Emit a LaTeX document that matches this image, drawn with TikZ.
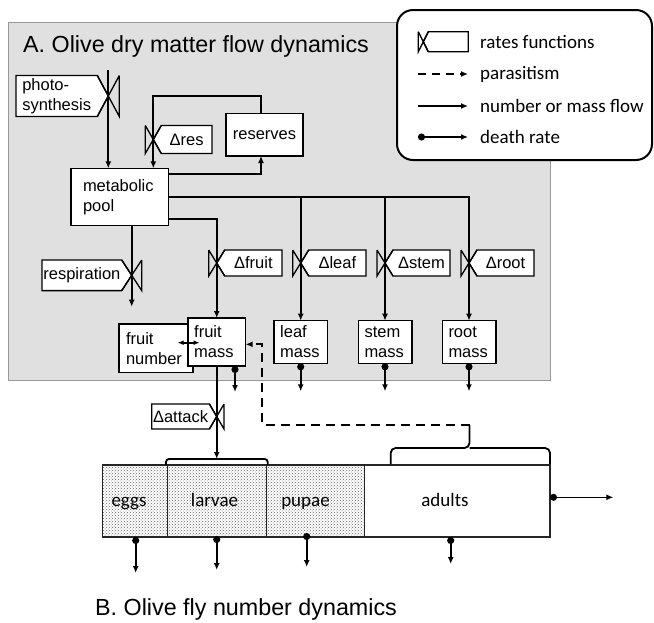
\documentclass[tikz,border=0pt]{standalone}
\usepackage{fontspec}
\setmainfont{Liberation Sans}
\newfontfamily\calib{Carlito}
\usetikzlibrary{arrows.meta,patterns}

\tikzset{
 box/.style={draw, line width=1.3pt, fill=white, inner xsep=7pt, inner ysep=0pt, outer sep=0pt, align=left, font=\fontsize{16.5}{20}\selectfont},
 flow/.style={line width=1.8pt, -{Latex[length=7pt,width=6pt]}},
 bigflow/.style={line width=2.3pt, -{Latex[length=7pt,width=6pt]}},
 death/.style={line width=1.8pt, {Circle[length=7pt]}-{Latex[length=7pt,width=6pt]}},
 dbl/.style={line width=1.6pt, {Latex[length=6pt,width=5pt]}-{Latex[length=6pt,width=5pt]}},
 para/.style={line width=2.2pt, dash pattern=on 9pt off 6pt},
 lbl/.style={font=\fontsize{16.5}{20}\selectfont, inner sep=0pt, align=left},
 rate/.style={line width=1.3pt},
 leg/.style={font=\calib\fontsize{19}{22}\selectfont, anchor=west, inner sep=0pt},
 stage/.style={draw=black!85, line width=1.2pt, minimum height=72pt, inner sep=0pt, outer sep=0pt},
 stagetxt/.style={font=\calib\fontsize{19}{22}\selectfont, inner sep=0pt, anchor=base},
 title/.style={font=\fontsize{23.3}{28}\selectfont, inner sep=0pt},
 bracket/.style={line width=1.8pt},
}

% rate function, label box to the right: cx cy a h right label name
\newcommand\rateR[7]{%
 \coordinate (#7) at (#1,#2);
 \draw[rate, fill=white] (#1,#2) -- ({#1+#3},{#2-#4}) -- (#5,{#2-#4}) -- (#5,{#2+#4}) -- ({#1+#3},{#2+#4}) -- cycle;
 \draw[rate] ({#1-#3},{#2-#4}) -- ({#1-#3},{#2+#4}) -- ({#1+#3},{#2-#4}) ({#1-#3},{#2-#4}) -- ({#1+#3},{#2+#4});
 \node[lbl] (#7l) at ({(#1+#3+#5)/2},#2) {#6};
}
% rate function, label box to the left: cx cy a h left label name
\newcommand\rateL[7]{%
 \coordinate (#7) at (#1,#2);
 \draw[rate, fill=white] (#1,#2) -- ({#1-#3},{#2-#4}) -- (#5,{#2-#4}) -- (#5,{#2+#4}) -- ({#1-#3},{#2+#4}) -- cycle;
 \draw[rate] ({#1+#3},{#2-#4}) -- ({#1+#3},{#2+#4}) -- ({#1-#3},{#2-#4}) ({#1+#3},{#2-#4}) -- ({#1-#3},{#2+#4});
 \node[lbl] (#7l) at ({(#1-#3+#5)/2},#2) {#6};
}

\begin{document}
\begin{tikzpicture}[x=1pt,y=-1pt]
\useasboundingbox (0,0) rectangle (654,622);

% ---------- panel A background
\fill[black!12] (8,22) rectangle (550,380);
\draw[black!40, line width=0.5pt] (8,22) rectangle (550,380);
\node[title, anchor=base west] (tA) at (23,52) {A. Olive dry matter flow dynamics};

% ---------- boxes
\node[box, minimum width=97.3pt, minimum height=57.4pt, text width=73.3pt, inner xsep=12pt] (meta) at (119.65,197) {metabolic\\pool};
\node[box, minimum width=75.6pt, minimum height=42.7pt, align=center] (res) at (264.5,134.65) {reserves};
\node[box, minimum width=74pt, minimum height=48.7pt, text width=60pt] (fnum) at (156,348.35) {fruit\\number};
\node[box, minimum width=57.7pt, minimum height=48pt, text width=45pt, inner xsep=6pt] (fmass) at (216.7,342) {fruit\\mass};
\node[box, minimum width=53.7pt, minimum height=42.6pt, text width=41pt, inner xsep=6pt] (leafm) at (300.7,342) {leaf\\mass};
\node[box, minimum width=53.7pt, minimum height=42.6pt, text width=41pt, inner xsep=6pt] (stemm) at (385,342) {stem\\mass};
\node[box, minimum width=53.7pt, minimum height=42.6pt, text width=41pt, inner xsep=6pt] (rootm) at (469,342) {root\\mass};

% ---------- helper coordinates
\coordinate (ps0) at (108.3,70);
\coordinate (y174) at (0,174);
\coordinate (y219) at (0,219.3);
\coordinate (xr) at (261,0);
\coordinate (rl) at (153.3,95.7);
\coordinate (respend) at (131.7,306.7);
\coordinate (dbA) at (177.7,342.7);
\coordinate (dbB) at (199.5,342.7);
\coordinate (fd1) at (235,366);
\coordinate (fd2) at (235,392);

% ---------- flows in panel A
\draw[flow] (ps0) -- (ps0 |- meta.north);
\draw[flow] (xr |- res.north) |- (rl) -- (rl |- meta.north);
\draw[flow] (meta.east |- y174) -| (xr |- res.south);
\draw[flow] (meta.east) -| (rootm.north);
\draw[flow] (leafm.north |- meta.east) -- (leafm.north);
\draw[flow] (stemm.north |- meta.east) -- (stemm.north);
\draw[flow] (meta.east |- y219) -| (fmass.north);
\draw[flow] (respend |- meta.south) -- (respend);
\draw[dbl] (dbA) -- (dbB);
\draw[death] (fd1) -- (fd2);
\draw[death] (leafm.south) -- ++(0,28);
\draw[death] (stemm.south) -- ++(0,28);
\draw[death] (rootm.south) -- ++(0,28);

% ---------- rate functions
\rateL{108.3}{96}{11}{20.5}{16}{photo-\\synthesis}{vps}
\rateR{153.3}{139.5}{8}{14}{212}{Δres}{vres}
\rateL{131.7}{275.3}{10}{15.3}{42}{respiration}{vresp}
\rateR{216.7}{263}{8}{13}{282}{Δfruit}{vfruit}
\rateR{300.7}{263}{8}{13}{366}{Δleaf}{vleaf}
\rateR{385}{263}{8}{13}{450}{Δstem}{vstem}
\rateR{469}{263}{8}{13}{534}{Δroot}{vroot}

% ---------- panel B stages
\fill[white] (102.3,465) rectangle (364.3,537);
\path[pattern=crosshatch dots, pattern color=black!60] (102.3,465) rectangle (364.3,537);
\node[stage, minimum width=65.4pt] (eggs) at (135,501) {};
\node[stage, minimum width=99pt] (larvae) at (217.2,501) {};
\node[stage, minimum width=97.6pt] (pupae) at (315.5,501) {};
\node[stage, minimum width=185.7pt, fill=white] (adults) at (457.15,501) {};
\node[stagetxt] (eggst) at (129,506.5) {eggs};
\node[stagetxt] (larvaet) at (214.5,506.5) {larvae};
\node[stagetxt] (pupaet) at (305.5,506.5) {pupae};
\node[stagetxt] (adultst) at (445,506.5) {adults};

% brackets
\coordinate (lbtop) at (216.7,459);
\draw[bracket, rounded corners=3pt] (166,465) |- (267.7,459) -- (267.7,465);
\coordinate (btip) at (469.5,425);
\draw[bracket, rounded corners=5pt] (390.7,464) |- (469.5,448) -- (btip);
\draw[bracket, rounded corners=5pt] (550,464) |- (469.5,448);

% fruit attack flow
\draw[bigflow] (fmass.south) -- (lbtop);
\rateL{216.7}{416.5}{7.3}{12.5}{151.7}{Δattack}{vatt}

% parasitism
\coordinate (pc1) at (262.3,425);
\coordinate (pc2) at (262.3,344.3);
\draw[para, -{Latex[length=7pt,width=6pt]}] (btip) -- (pc1) -- (pc2) -- (fmass.east |- pc2);

% death in panel B
\coordinate (ed) at (135.7,537);
\coordinate (ld) at (216.7,536);
\coordinate (pd) at (306.7,533);
\coordinate (ad) at (450.7,537);
\coordinate (ae) at (550,497.3);
\draw[death] (ed) -- ++(0,36);
\draw[death] (ld) -- ++(0,34);
\draw[death] (pd) -- ++(0,34);
\draw[death] (ad) -- ++(0,27);
\draw[death, line width=1.2pt] (ae) -- (613.3,497.3);

\node[title, anchor=base west] (tB) at (95,615) {B. Olive fly number dynamics};

% ---------- legend
\draw[line width=2pt, rounded corners=16pt, fill=white] (397,10) rectangle (652,160);
\rateR{423.3}{41.7}{5}{10}{468.3}{}{lgv}
\coordinate (l2a) at (418,74); \coordinate (l2b) at (468,74);
\coordinate (l3a) at (418,106); \coordinate (l3b) at (468,106);
\coordinate (l4a) at (418,137); \coordinate (l4b) at (468,137);
\draw[para, dash pattern=on 8pt off 6pt, -{Latex[length=7pt,width=6pt]}] (l2a) -- (l2b);
\draw[flow] (l3a) -- (l3b);
\draw[death] (l4a) -- (l4b);
\node[leg] (lt1) at (480,42) {rates functions};
\node[leg] (lt2) at (480,74) {parasitism};
\node[leg] (lt3) at (480,106) {number or mass flow};
\node[leg] (lt4) at (480,137) {death rate};
\end{tikzpicture}
\end{document}
